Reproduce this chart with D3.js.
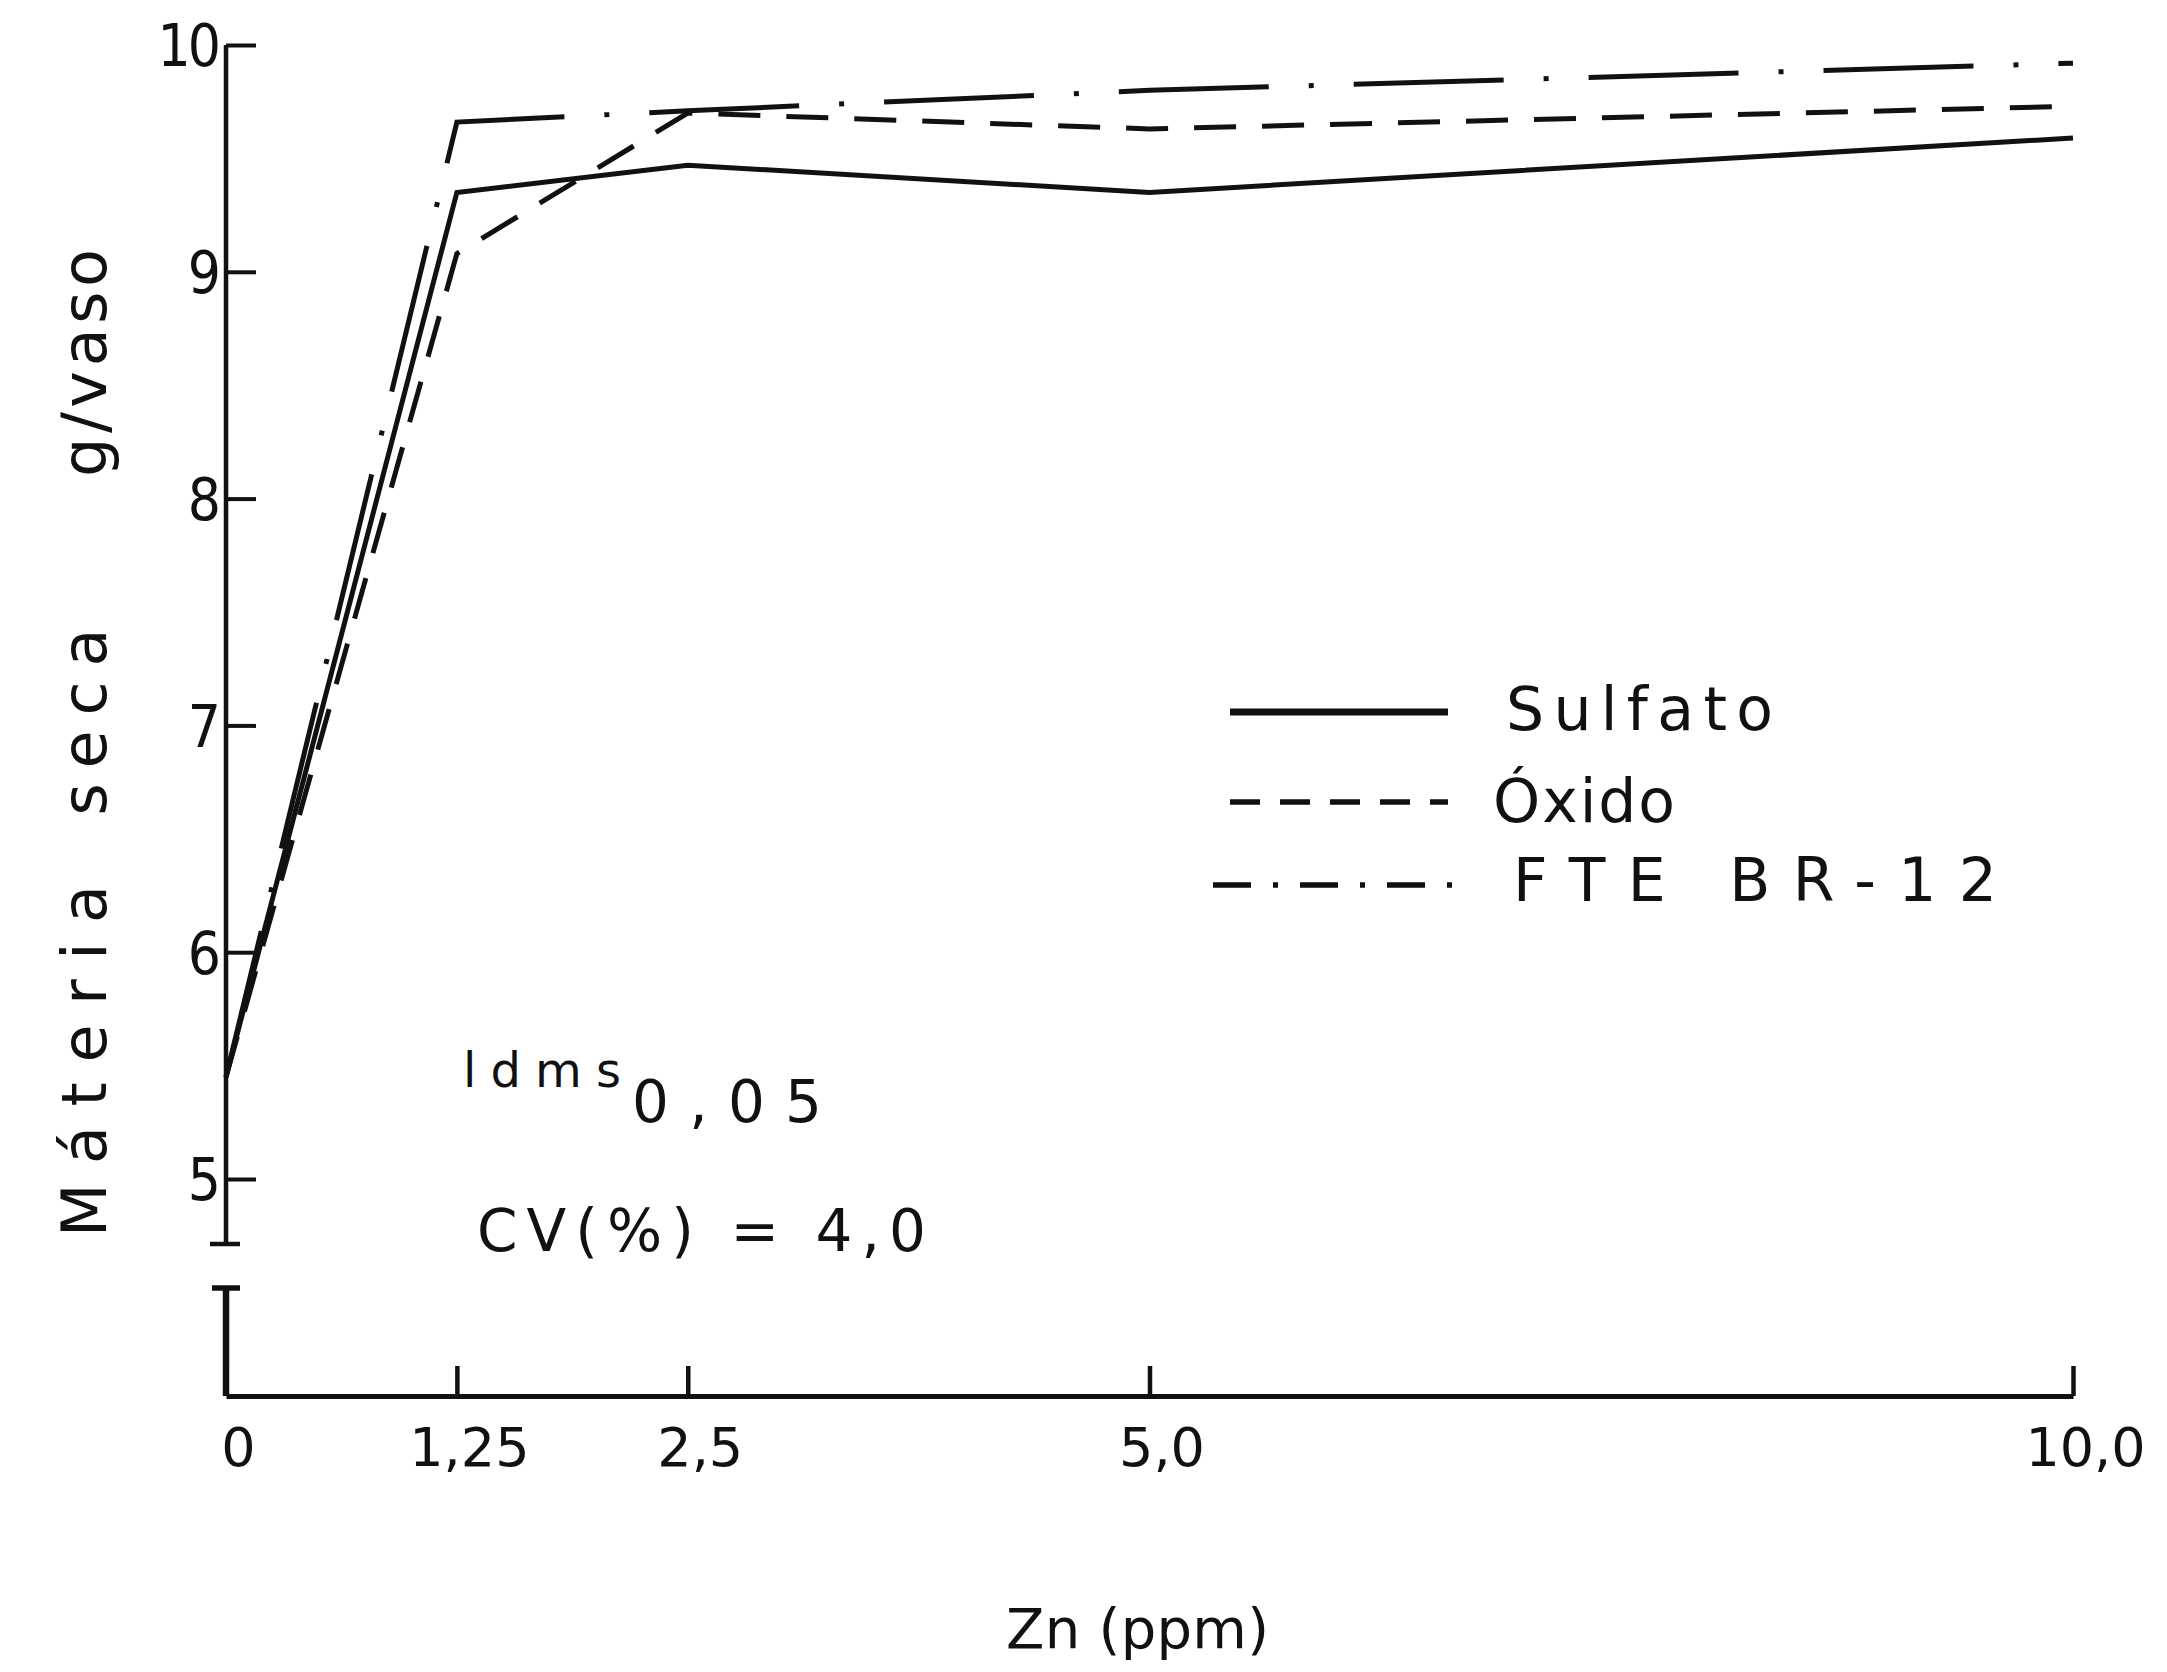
<!DOCTYPE html>
<html>
<head>
<meta charset="utf-8">
<script src="https://cdn.jsdelivr.net/npm/d3@7"></script>
<style>
  html, body { margin: 0; padding: 0; background: #fff; }
  svg { display: block; }
  text { font-family: "DejaVu Sans", "Liberation Sans", sans-serif; fill: #111; }
  .narrow { font-family: "Liberation Sans Narrow", "DejaVu Sans Condensed", "DejaVu Sans", sans-serif; }
</style>
</head>
<body>
<svg id="chart" width="2167" height="1672"></svg>
<script>
// Zn dose (ppm) and dry matter (g/vaso) per source
const zn = [0, 1.25, 2.5, 5.0, 10.0];
const sulfato = [5.45, 9.35, 9.47, 9.35, 9.59];
const oxido = [5.45, 9.08, 9.70, 9.63, 9.73];
const fte = [5.45, 9.66, 9.71, 9.80, 9.92];

const seriesNames = ["Sulfato", "Óxido", "FTE BR-12"];
const xTickValues = [0, 1.25, 2.5, 5.0, 10.0];
const xTickLabels = ["0", "1,25", "2,5", "5,0", "10,0"];
const yTickValues = [5, 6, 7, 8, 9, 10];
const yTickLabels = ["5", "6", "7", "8", "9", "10"];

const svg = d3.select("#chart");
const ink = "#111";

const x = d3.scaleLinear().domain([0, 10]).range([226, 2073]);
const y = d3.scaleLinear().domain([5, 10]).range([1179, 45]);
const xAxisY = 1396;

// ---- y axis (upper part, tick marks pointing inward) ----
const yAxis = d3.axisLeft(y)
  .tickValues(yTickValues)
  .tickFormat((d, i) => yTickLabels[i])
  .tickSizeInner(-30)
  .tickSizeOuter(0)
  .tickPadding(8);

const gy = svg.append("g").attr("transform", `translate(${x(0)},0)`).call(yAxis);
gy.select(".domain").remove();
gy.selectAll(".tick line").attr("stroke", ink).attr("stroke-width", 4);
gy.selectAll(".tick text")
  .attr("class", "narrow")
  .attr("font-size", 58)
  .attr("letter-spacing", -3)
  .attr("fill", ink)
  .attr("dy", "0.36em");

// spine down to the break, capped
const yBreakTop = 1244, yBreakBottom = 1288;
svg.append("line")
  .attr("x1", x(0)).attr("x2", x(0))
  .attr("y1", y(10)).attr("y2", yBreakTop)
  .attr("stroke", ink).attr("stroke-width", 4.5);
svg.append("line")
  .attr("x1", x(0) - 16).attr("x2", x(0) + 14)
  .attr("y1", yBreakTop).attr("y2", yBreakTop)
  .attr("stroke", ink).attr("stroke-width", 4.5);
// lower stub after the break
svg.append("line")
  .attr("x1", x(0) - 14).attr("x2", x(0) + 14)
  .attr("y1", yBreakBottom).attr("y2", yBreakBottom)
  .attr("stroke", ink).attr("stroke-width", 5.5);
svg.append("line")
  .attr("x1", x(0)).attr("x2", x(0))
  .attr("y1", yBreakBottom).attr("y2", xAxisY)
  .attr("stroke", ink).attr("stroke-width", 6.5);

// ---- x axis ----
const xAxis = d3.axisBottom(x)
  .tickValues(xTickValues)
  .tickFormat((d, i) => xTickLabels[i])
  .tickSizeInner(-30)
  .tickSizeOuter(0)
  .tickPadding(32);

const gx = svg.append("g").attr("transform", `translate(0,${xAxisY})`).call(xAxis);
gx.select(".domain").attr("stroke", ink).attr("stroke-width", 5);
gx.selectAll(".tick line").attr("stroke", ink).attr("stroke-width", 4.5);
gx.selectAll(".tick text")
  .attr("font-size", 54)
  .attr("fill", ink)
  .attr("dx", 12);

// ---- series lines ----
const line = d3.line()
  .x((d, i) => x(zn[i]))
  .y(d => y(d));

const styles = [
  { data: sulfato, dash: null },
  { data: oxido, dash: "42,26" },
  { data: fte, dash: "150,40,5,40" }
];

svg.append("g").selectAll("path")
  .data(styles)
  .join("path")
  .attr("d", s => line(s.data))
  .attr("fill", "none")
  .attr("stroke", ink)
  .attr("stroke-width", 5)
  .attr("stroke-linejoin", "miter")
  .attr("stroke-dasharray", s => s.dash);

// ---- legend ----
const legend = [
  { name: seriesNames[0], dash: null, x1: 1230, x2: 1448, ly: 712, tx: 1506, ty: 730, w: 267 },
  { name: seriesNames[1], dash: "30,20", x1: 1230, x2: 1448, ly: 802, tx: 1493, ty: 822, w: 182 },
  { name: seriesNames[2], dash: "38,22,5,22", x1: 1213, x2: 1460, ly: 885, tx: 1513, ty: 901, w: 484 }
];
const lg = svg.append("g");
lg.selectAll("line")
  .data(legend)
  .join("line")
  .attr("x1", d => d.x1).attr("x2", d => d.x2)
  .attr("y1", d => d.ly).attr("y2", d => d.ly)
  .attr("stroke", ink)
  .attr("stroke-width", (d, i) => i === 0 ? 7 : 5.5)
  .attr("stroke-dasharray", d => d.dash);
lg.selectAll("text")
  .data(legend)
  .join("text")
  .attr("x", d => d.tx).attr("y", d => d.ty)
  .attr("font-size", 60)
  .attr("textLength", d => d.w)
  .attr("lengthAdjust", "spacing")
  .text(d => d.name);

// ---- statistics annotations ----
svg.append("text").attr("x", 463).attr("y", 1087)
  .attr("font-size", 48).attr("textLength", 158).attr("lengthAdjust", "spacing")
  .text("ldms");
svg.append("text").attr("x", 632).attr("y", 1122)
  .attr("font-size", 58).attr("textLength", 190).attr("lengthAdjust", "spacing")
  .text("0,05");
svg.append("text").attr("x", 477).attr("y", 1251)
  .attr("font-size", 58).attr("textLength", 449).attr("lengthAdjust", "spacing")
  .text("CV(%) = 4,0");

// ---- axis titles ----
svg.append("text").attr("x", 1006).attr("y", 1648)
  .attr("font-size", 56).attr("textLength", 263).attr("lengthAdjust", "spacing")
  .text("Zn (ppm)");

const yTitle = [
  { t: "Máteria", c: 1061, w: 352 },
  { t: "seca", c: 722, w: 187 },
  { t: "g/vaso", c: 363, w: 228 }
];
svg.append("g").selectAll("text")
  .data(yTitle)
  .join("text")
  .attr("transform", d => `translate(106,${d.c}) rotate(-90)`)
  .attr("text-anchor", "middle")
  .attr("font-size", 62)
  .attr("textLength", d => d.w)
  .attr("lengthAdjust", "spacing")
  .text(d => d.t);
</script>
</body>
</html>
